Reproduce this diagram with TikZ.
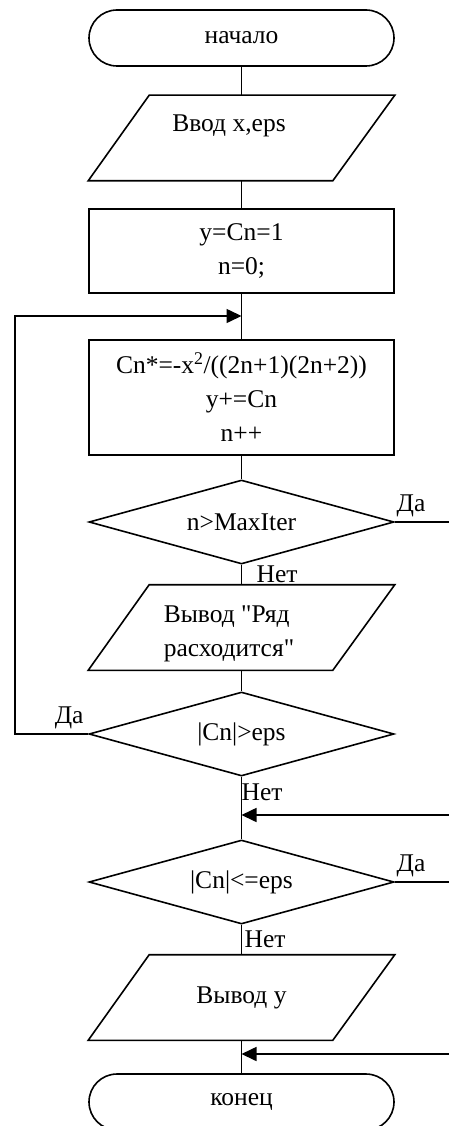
\documentclass[tikz,border=0pt]{standalone}
\usepackage{fontspec}
\setmainfont{Liberation Serif}
\usetikzlibrary{arrows.meta,shapes.geometric}

\begin{document}
\begin{tikzpicture}[x=1pt,y=1pt,line width=1.6pt,
      font=\fontsize{25.5}{34}\selectfont,
      term/.style={draw,rectangle,rounded corners=28pt,
                   minimum width=305pt,minimum height=56pt,inner sep=0pt},
      io/.style={rectangle,minimum width=305pt,minimum height=84pt,inner sep=0pt},
      proc/.style={draw,rectangle,minimum width=305pt,inner sep=0pt,align=center},
      cond/.style={draw,diamond,aspect=3.6,minimum width=305pt,
                   minimum height=84pt,inner sep=0pt},
      txt/.style={inner sep=0pt,align=left},
      flow/.style={-{Triangle[length=15pt,width=14pt]}}]
    \useasboundingbox (0,0) rectangle (449,-1126);

    % main column
    \node[term] (start) at (241.5,-38) {начало};
    \node[io] (input) at (241.5,-138) {};
    \node[txt] (inputtxt) at (229,-126) {Ввод x,eps};
    \node[proc,minimum height=84pt] (init) at (241.5,-251) {y=Cn=1\\n=0;};
    \node[proc,minimum height=115pt] (step) at (241.5,-397.5)
      {Cn*=-x\textsuperscript{2}/((2n+1)(2n+2))\\y+=Cn\\n++};
    \node[cond] (maxit) at (241.5,-522) {n>MaxIter};
    \node[io] (warn) at (241.5,-627.5) {};
    \node[txt,anchor=west] (warntxt) at (163,-634)
      {Вывод \textquotedbl Ряд\\расходится\textquotedbl};
    \node[cond] (test) at (241.5,-734) {|Cn|>eps};
    \node[cond] (done) at (241.5,-882) {|Cn|<=eps};
    \node[io] (output) at (241.5,-997.5) {Вывод y};
    \node[term] (stop) at (241.5,-1102) {конец};

    % data boxes as parallelograms
    \foreach \n in {input,warn,output}{%
      \draw (\n.south west) -- ([xshift=-62pt]\n.south east)
        -- (\n.north east) -- ([xshift=61pt]\n.north west) -- cycle;
    }

    % free ends and joints
    \coordinate (loopin) at (241.5,-316);
    \coordinate (loopleft) at (15,-734);
    \coordinate (maxitout) at (449,-522);
    \coordinate (doneout) at (449,-882);
    \coordinate (join1) at (241.5,-815);
    \coordinate (join1r) at (449,-815);
    \coordinate (join2) at (241.5,-1054);
    \coordinate (join2r) at (449,-1054);

    \draw (start) -- (input);
    \draw (input) -- (init);
    \draw (init) -- (step);
    \draw (step) -- (maxit);
    \draw (maxit.east) -- (maxitout) node[pos=0.3,above=1pt] (yes1) {Да};
    \draw (maxit) -- (warn) node[midway,right=11pt] (no1) {Нет};
    \draw (warn) -- (test);
    \draw[flow] (test.west) -- (loopleft) node[pos=0.26,above=1pt] (yes2) {Да}
      |- (loopin);
    \draw (test) -- (done) node[pos=0.25,right=-4pt] (no2) {Нет};
    \draw[flow] (join1r) -- (join1);
    \draw (done.east) -- (doneout) node[pos=0.3,above=1pt] (yes3) {Да};
    \draw (done) -- (output) node[midway,right=-1pt] (no3) {Нет};
    \draw (output) -- (stop);
    \draw[flow] (join2r) -- (join2);
  \end{tikzpicture}
\end{document}
